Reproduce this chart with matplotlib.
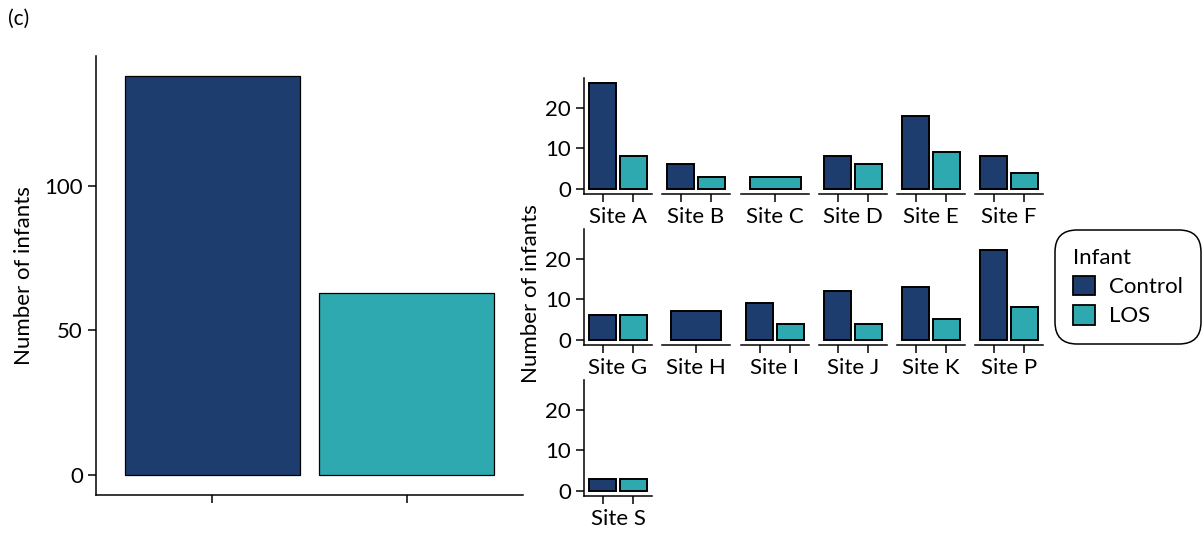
import matplotlib
matplotlib.use('Agg')
import matplotlib.pyplot as plt
from matplotlib.patches import Patch

plt.rcParams['font.family'] = ['Lato', 'DejaVu Sans']

groups = ['Control', 'LOS']
totals = [138, 63]
sites = ['Site A', 'Site B', 'Site C', 'Site D', 'Site E', 'Site F',
         'Site G', 'Site H', 'Site I', 'Site J', 'Site K', 'Site P', 'Site S']
control = [26, 6, 0, 8, 18, 8, 6, 7, 9, 12, 13, 22, 3]
los = [8, 3, 3, 6, 9, 4, 6, 0, 4, 4, 5, 8, 3]

colors = {'Control': '#1c3d6e', 'LOS': '#2ea9b0'}
FS = 16

W, H = 1203, 533
fig = plt.figure(figsize=(W / 100, H / 100), dpi=100)


def px_axes(x0, y0, x1, y1):
    return fig.add_axes([x0 / W, 1 - y1 / H, (x1 - x0) / W, (y1 - y0) / H])


def style(ax, left=True):
    for s in ['top', 'right']:
        ax.spines[s].set_visible(False)
    ax.spines['bottom'].set_linewidth(1.1)
    ax.spines['left'].set_linewidth(1.1)
    ax.tick_params(length=5.5, width=1.1, colors='black', labelsize=FS, pad=4)
    if not left:
        ax.spines['left'].set_visible(False)
        ax.tick_params(axis='y', left=False, labelleft=False)


# left panel: totals
ax = px_axes(96, 56, 523, 495)
xs = range(1, len(groups) + 1)
ax.bar(xs, totals, width=0.9, color=[colors[g] for g in groups],
       edgecolor='black', linewidth=0.9)
ax.set_xlim(0.4, len(groups) + 0.6)
ax.set_ylim(-6.9, 144.9)
ax.set_yticks([0, 50, 100])
ax.set_xticks(list(xs))
ax.set_xticklabels([])
ax.set_ylabel('Number of infants', fontsize=FS, labelpad=7)
style(ax)

# facets per site
col_x = [584, 662, 741, 819, 897, 975]
row_y = [78, 229, 380]
pw, ph = 68, 116
for i, site in enumerate(sites):
    r, c = divmod(i, 6)
    x0, y0 = col_x[c], row_y[r]
    ax = px_axes(x0, y0, x0 + pw, y0 + ph)
    vals = [(g, v) for g, v in zip(groups, [control[i], los[i]]) if v > 0]
    pos = list(range(1, len(vals) + 1))
    ax.bar(pos, [v for g, v in vals], width=0.9,
           color=[colors[g] for g, v in vals], edgecolor='black', linewidth=1.4)
    ax.set_xlim(0.4, len(vals) + 0.6)
    ax.set_ylim(-1.3, 27.3)
    ax.set_yticks([0, 10, 20])
    ax.set_xticks(pos)
    ax.set_xticklabels([])
    ax.set_xlabel(site, fontsize=FS, labelpad=0)
    style(ax, left=(c == 0))

fig.text(531 / W, 1 - 294 / H, 'Number of infants', rotation=90,
         ha='center', va='center', fontsize=FS)

fig.text(8 / W, 1 - 19 / H, '(c)', ha='left', va='center', fontsize=15)

handles = [Patch(facecolor=colors[g], edgecolor='black', linewidth=1.3, label=g)
           for g in groups]
leg = fig.legend(handles=handles, title='Infant', loc='upper left',
                 bbox_to_anchor=(1055 / W, 1 - 230 / H), borderaxespad=0,
                 fontsize=FS, title_fontsize=FS, frameon=True,
                 handlelength=1.0, handleheight=1.0, borderpad=0.8,
                 labelspacing=0.35, handletextpad=0.65, alignment='left')
fr = leg.get_frame()
fr.set_boxstyle('round,pad=0,rounding_size=1.0')
fr.set_edgecolor('black')
fr.set_linewidth(1.1)
fr.set_alpha(1)

fig.savefig('out.png', dpi=100)
